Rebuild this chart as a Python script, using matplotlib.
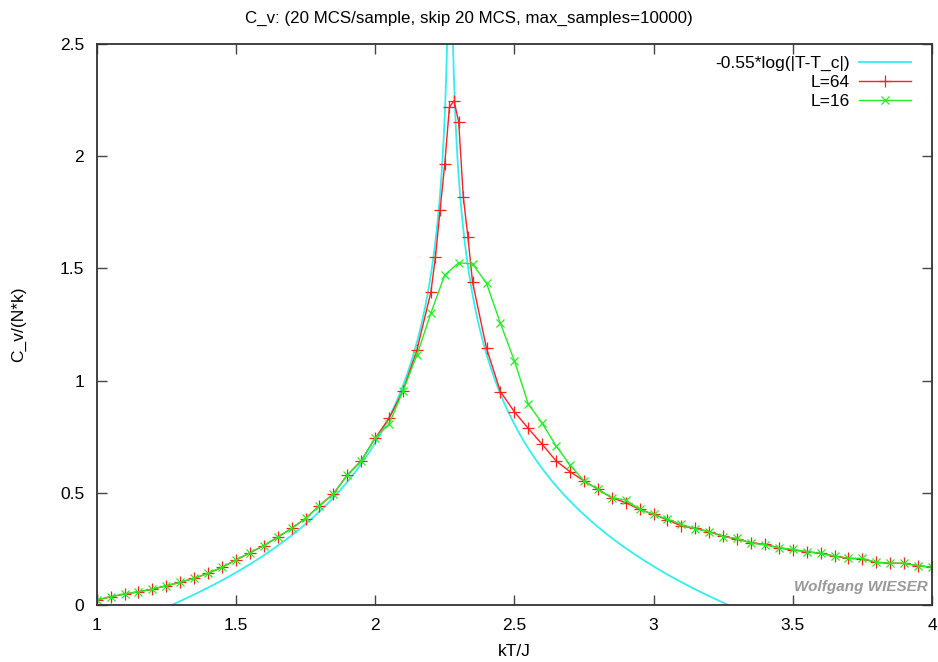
import numpy as np
import matplotlib
matplotlib.use('Agg')
import matplotlib.pyplot as plt

plt.rcParams['font.family'] = ['Liberation Sans', 'DejaVu Sans']

# fit curve from the legend: -0.55*log(|T-T_c|)
coef = 0.55
T_c = 2.269

# L=64
T64 = [1.0, 1.05, 1.1, 1.15, 1.2, 1.25, 1.3, 1.35, 1.4, 1.45, 1.5, 1.55, 1.6, 1.65,
       1.7, 1.75, 1.8, 1.85, 1.9, 1.95, 2.0, 2.05, 2.1, 2.15,
       2.2, 2.2167, 2.2333, 2.25, 2.2667, 2.2833, 2.3, 2.3167, 2.3333, 2.35,
       2.4, 2.45, 2.5, 2.55, 2.6, 2.65, 2.7, 2.75, 2.8, 2.85, 2.9, 2.95,
       3.0, 3.05, 3.1, 3.15, 3.2, 3.25, 3.3, 3.35, 3.4, 3.45, 3.5, 3.55,
       3.6, 3.65, 3.7, 3.75, 3.8, 3.85, 3.9, 3.95, 4.0]
C64 = [0.022, 0.037, 0.049, 0.059, 0.070, 0.086, 0.101, 0.119, 0.141, 0.168, 0.200, 0.233, 0.264, 0.302,
       0.342, 0.385, 0.443, 0.495, 0.579, 0.643, 0.743, 0.832, 0.955, 1.136,
       1.393, 1.552, 1.760, 1.965, 2.218, 2.247, 2.154, 1.817, 1.639, 1.438,
       1.144, 0.951, 0.861, 0.787, 0.716, 0.642, 0.594, 0.553, 0.516, 0.478, 0.456, 0.426,
       0.404, 0.379, 0.352, 0.342, 0.327, 0.307, 0.293, 0.278, 0.270, 0.255, 0.245, 0.238,
       0.230, 0.218, 0.208, 0.205, 0.190, 0.186, 0.186, 0.175, 0.168]

# L=16
T16 = [1.0, 1.05, 1.1, 1.15, 1.2, 1.25, 1.3, 1.35, 1.4, 1.45, 1.5, 1.55, 1.6, 1.65,
       1.7, 1.75, 1.8, 1.85, 1.9, 1.95, 2.0, 2.05, 2.1, 2.15, 2.2, 2.25, 2.3, 2.35,
       2.4, 2.45, 2.5, 2.55, 2.6, 2.65, 2.7, 2.75, 2.8, 2.85, 2.9, 2.95,
       3.0, 3.05, 3.1, 3.15, 3.2, 3.25, 3.3, 3.35, 3.4, 3.45, 3.5, 3.55,
       3.6, 3.65, 3.7, 3.75, 3.8, 3.85, 3.9, 3.95, 4.0]
C16 = [0.022, 0.037, 0.049, 0.059, 0.071, 0.086, 0.101, 0.120, 0.141, 0.168, 0.201, 0.233, 0.265, 0.302,
       0.342, 0.386, 0.443, 0.496, 0.578, 0.642, 0.745, 0.807, 0.953, 1.114, 1.300, 1.471, 1.525, 1.520,
       1.434, 1.255, 1.089, 0.896, 0.810, 0.709, 0.624, 0.553, 0.516, 0.478, 0.468, 0.426,
       0.404, 0.383, 0.359, 0.339, 0.327, 0.304, 0.297, 0.276, 0.268, 0.255, 0.248, 0.238,
       0.230, 0.218, 0.208, 0.208, 0.190, 0.186, 0.186, 0.175, 0.168]

x_ticks = [1, 1.5, 2, 2.5, 3, 3.5, 4]
y_ticks = [0, 0.5, 1, 1.5, 2, 2.5]

fig = plt.figure(figsize=(9.38, 6.62), dpi=100)
ax = fig.add_axes([0.1031, 0.0861, 0.8905, 0.8474])

T_fit = np.linspace(1.0, 4.0, 3001)
T_fit = T_fit[np.abs(T_fit - T_c) > 1e-4]
C_fit = -coef * np.log(np.abs(T_fit - T_c))
left = T_fit < T_c
ax.plot(T_fit[left], C_fit[left], color='#33eeee', lw=1.3, label='-0.55*log(|T-T_c|)')
ax.plot(T_fit[~left], C_fit[~left], color='#33eeee', lw=1.3)

ax.plot(T64, C64, color='#ff2020', lw=1.0, marker='+', ms=8, mew=0.9, label='L=64')
ax.plot(T16, C16, color='#22ee22', lw=1.0, marker='x', ms=6, mew=0.9, label='L=16')

ax.set_xlim(1, 4)
ax.set_ylim(0, 2.5)
ax.set_xticks(x_ticks)
ax.set_xticklabels(['1', '1.5', '2', '2.5', '3', '3.5', '4'])
ax.set_yticks(y_ticks)
ax.set_yticklabels(['0', '0.5', '1', '1.5', '2', '2.5'])
ax.tick_params(direction='in', length=7, width=1, top=True, right=True,
               labelsize=12.5, pad=9, color='#444444')
for s in ax.spines.values():
    s.set_linewidth(1.3)
    s.set_color('#333333')

# gnuplot centres the title on the whole canvas
fig.text(0.5, 0.972, 'C_v: (20 MCS/sample, skip 20 MCS, max_samples=10000)',
         ha='center', va='center', fontsize=12.2)
ax.set_xlabel('kT/J', fontsize=12.5, labelpad=8)
ax.set_ylabel('C_v/(N*k)', fontsize=12.5, labelpad=24)

ax.legend(loc='upper right', frameon=False, markerfirst=False, fontsize=12.5,
          handlelength=3.0, handletextpad=0.55, labelspacing=0.2,
          borderaxespad=0.3, bbox_to_anchor=(0.99, 1.0))

ax.text(0.995, 0.02, 'Wolfgang WIESER', transform=ax.transAxes, ha='right', va='bottom',
        fontsize=11, fontweight='bold', fontstyle='italic', color='#999999')

fig.savefig('out.png', dpi=100)
